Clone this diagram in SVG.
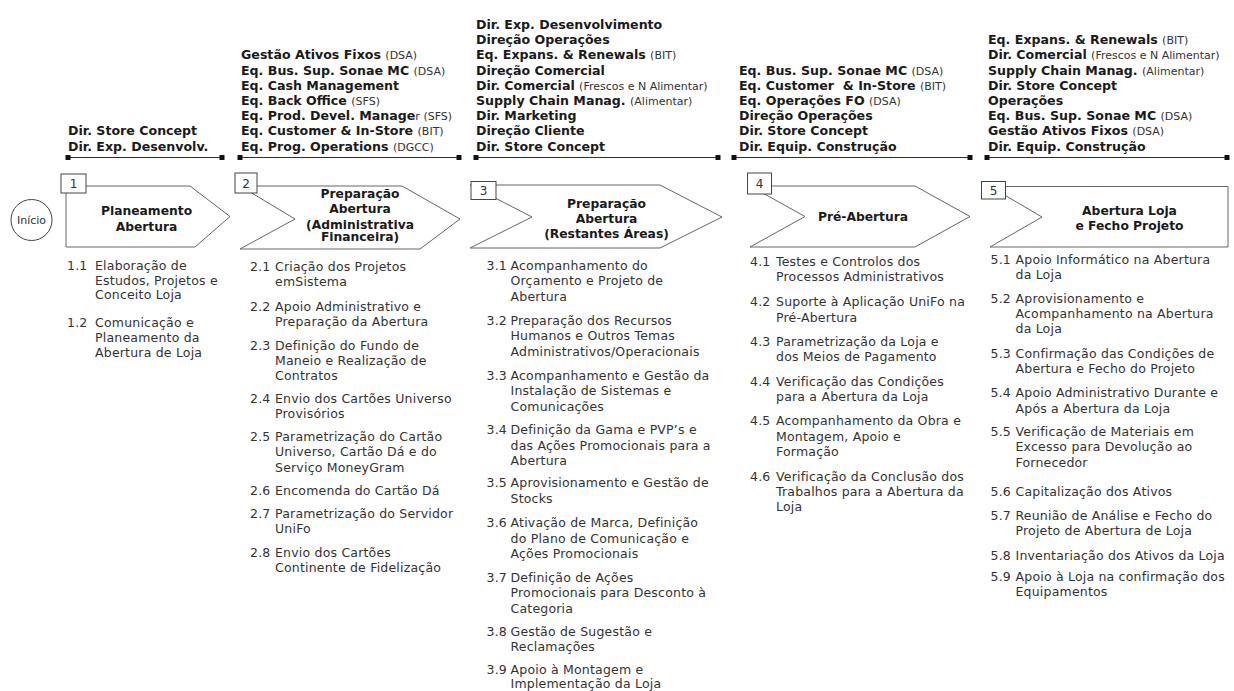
<svg xmlns="http://www.w3.org/2000/svg" width="1234" height="691" viewBox="0 0 1234 691">
<style>
text{font-family:"DejaVu Sans","Verdana",sans-serif;}
.hd{font-size:12.6px;font-weight:bold;fill:#1a1a1a;white-space:pre;}
.hd tspan.p{font-size:11px;font-weight:normal;fill:#333;}
.bd{font-size:12.5px;fill:#333;letter-spacing:0.2px;}
.tt{font-size:12.3px;font-weight:bold;fill:#1a1a1a;text-anchor:middle;}
.num{font-size:12px;fill:#333;text-anchor:middle;}
.chev{fill:#fff;stroke:#666;stroke-width:1;}
.box{fill:#fff;stroke:#444;stroke-width:1;}
.bar{stroke:#333;stroke-width:1.2;}
.sq{fill:#111;}
</style>

<g id="inicio">
<circle cx="31.5" cy="220" r="20.5" fill="#fff" stroke="#444" stroke-width="1"/>
<text x="31.5" y="224" style="font-size:11px;fill:#333;text-anchor:middle;">Início</text>
</g>

<g id="headers">
<g id="header1">
<line class="bar" x1="68" y1="157.5" x2="222" y2="157.5"/>
<rect class="sq" x="65.5" y="155" width="5" height="5"/><rect class="sq" x="219.5" y="155" width="5" height="5"/>
<text class="hd" x="68" y="135.3">Dir. Store Concept</text>
<text class="hd" x="68" y="150.5">Dir. Exp. Desenvolv.</text>
</g>
<g id="header2">
<line class="bar" x1="240" y1="157.5" x2="459" y2="157.5"/>
<rect class="sq" x="237.5" y="155" width="5" height="5"/><rect class="sq" x="456.5" y="155" width="5" height="5"/>
<text class="hd" x="241" y="59.3">Gestão Ativos Fixos <tspan class="p">(DSA)</tspan></text>
<text class="hd" x="241" y="74.5">Eq. Bus. Sup. Sonae MC <tspan class="p">(DSA)</tspan></text>
<text class="hd" x="241" y="89.7">Eq. Cash Management</text>
<text class="hd" x="241" y="104.9">Eq. Back Office <tspan class="p">(SFS)</tspan></text>
<text class="hd" x="241" y="120.1">Eq. Prod. Devel. Manage<tspan class="p">r (SFS)</tspan></text>
<text class="hd" x="241" y="135.3">Eq. Customer &amp; In-Store <tspan class="p">(BIT)</tspan></text>
<text class="hd" x="241" y="150.5">Eq. Prog. Operations <tspan class="p">(DGCC)</tspan></text>
</g>
<g id="header3">
<line class="bar" x1="476" y1="157.5" x2="718" y2="157.5"/>
<rect class="sq" x="473.5" y="155" width="5" height="5"/><rect class="sq" x="715.5" y="155" width="5" height="5"/>
<text class="hd" x="476" y="28.9">Dir. Exp. Desenvolvimento</text>
<text class="hd" x="476" y="44.1">Direção Operações</text>
<text class="hd" x="476" y="59.3">Eq. Expans. &amp; Renewals <tspan class="p">(BIT)</tspan></text>
<text class="hd" x="476" y="74.5">Direção Comercial</text>
<text class="hd" x="476" y="89.7">Dir. Comercial <tspan class="p">(Frescos e N Alimentar)</tspan></text>
<text class="hd" x="476" y="104.9">Supply Chain Manag. <tspan class="p">(Alimentar)</tspan></text>
<text class="hd" x="476" y="120.1">Dir. Marketing</text>
<text class="hd" x="476" y="135.3">Direção Cliente</text>
<text class="hd" x="476" y="150.5">Dir. Store Concept</text>
</g>
<g id="header4">
<line class="bar" x1="734" y1="157.5" x2="970" y2="157.5"/>
<rect class="sq" x="731.5" y="155" width="5" height="5"/><rect class="sq" x="967.5" y="155" width="5" height="5"/>
<text class="hd" x="739" y="74.5">Eq. Bus. Sup. Sonae MC <tspan class="p">(DSA)</tspan></text>
<text class="hd" x="739" y="89.7">Eq. Customer  &amp; In-Store <tspan class="p">(BIT)</tspan></text>
<text class="hd" x="739" y="104.9">Eq. Operações FO <tspan class="p">(DSA)</tspan></text>
<text class="hd" x="739" y="120.1">Direção Operações</text>
<text class="hd" x="739" y="135.3">Dir. Store Concept</text>
<text class="hd" x="739" y="150.5">Dir. Equip. Construção</text>
</g>
<g id="header5">
<line class="bar" x1="987" y1="157.5" x2="1227" y2="157.5"/>
<rect class="sq" x="984.5" y="155" width="5" height="5"/><rect class="sq" x="1224.5" y="155" width="5" height="5"/>
<text class="hd" x="988" y="44.1">Eq. Expans. &amp; Renewals <tspan class="p">(BIT)</tspan></text>
<text class="hd" x="988" y="59.3">Dir. Comercial <tspan class="p">(Frescos e N Alimentar)</tspan></text>
<text class="hd" x="988" y="74.5">Supply Chain Manag. <tspan class="p">(Alimentar)</tspan></text>
<text class="hd" x="988" y="89.7">Dir. Store Concept</text>
<text class="hd" x="988" y="104.9">Operações</text>
<text class="hd" x="988" y="120.1">Eq. Bus. Sup. Sonae MC <tspan class="p">(DSA)</tspan></text>
<text class="hd" x="988" y="135.3">Gestão Ativos Fixos <tspan class="p">(DSA)</tspan></text>
<text class="hd" x="988" y="150.5">Dir. Equip. Construção</text>
</g>
</g>

<g id="step1">
<polygon class="chev" points="66,186 190,186 230,216.5 195,247 66,247"/>
<rect class="box" x="61" y="174" width="25" height="19"/>
<text class="num" x="73.5" y="188">1</text>
<text class="tt" x="146.5" y="214.5">Planeamento</text>
<text class="tt" x="146.5" y="230.5">Abertura</text>
</g>

<g id="step2">
<polygon class="chev" points="240,186 402,186 460,219 420,249 240,249 295,219"/>
<rect class="box" x="235" y="173" width="22" height="20"/>
<text class="num" x="246" y="187.5">2</text>
<text class="tt" x="360" y="197.5">Preparação</text>
<text class="tt" x="360" y="212.5">Abertura</text>
<text class="tt" x="360" y="228.5">(Administrativa</text>
<text class="tt" x="360" y="241">Financeira)</text>
</g>

<g id="step3">
<polygon class="chev" points="470,185 660,185 722,217 660,248 470,248 532,217"/>
<rect class="box" x="471" y="181.5" width="25" height="18"/>
<text class="num" x="483.5" y="195">3</text>
<text class="tt" x="606.5" y="207.5">Preparação</text>
<text class="tt" x="606.5" y="222.5">Abertura</text>
<text class="tt" x="606.5" y="237.5">(Restantes Áreas)</text>
</g>

<g id="step4">
<polygon class="chev" points="750,186 915,186 970,216.5 915,247 750,247 805,216.5"/>
<rect class="box" x="747.5" y="173" width="24" height="21"/>
<text class="num" x="759.5" y="188">4</text>
<text class="tt" x="863" y="221">Pré-Abertura</text>
</g>

<g id="step5">
<polygon class="chev" points="990,186.5 1228,186.5 1228,247 990,247 1042,217"/>
<rect class="box" x="981.5" y="181.5" width="24" height="17.5"/>
<text class="num" x="993.5" y="194.5">5</text>
<text class="tt" x="1129.5" y="214.5">Abertura Loja</text>
<text class="tt" x="1129.5" y="229.5">e Fecho Projeto</text>
</g>

<g id="list1" class="bd">
<text class="bd" x="67" y="269.5">1.1</text><text class="bd" x="95" y="269.5">Elaboração de</text>
<text class="bd" x="95" y="284.5">Estudos, Projetos e</text>
<text class="bd" x="95" y="299">Conceito Loja</text>
<text class="bd" x="67" y="326.5">1.2</text><text class="bd" x="95" y="326.5">Comunicação e</text>
<text class="bd" x="95" y="341.5">Planeamento da</text>
<text class="bd" x="95" y="356.5">Abertura de Loja</text>
</g>

<g id="list2">
<text class="bd" x="250" y="271.2">2.1</text><text class="bd" x="275" y="271.2">Criação dos Projetos</text>
<text class="bd" x="275" y="286.2">emSistema</text>
<text class="bd" x="250" y="310.5">2.2</text><text class="bd" x="275" y="310.5">Apoio Administrativo e</text>
<text class="bd" x="275" y="325.5">Preparação da Abertura</text>
<text class="bd" x="250" y="349.5">2.3</text><text class="bd" x="275" y="349.5">Definição do Fundo de</text>
<text class="bd" x="275" y="364.5">Maneio e Realização de</text>
<text class="bd" x="275" y="379.5">Contratos</text>
<text class="bd" x="250" y="402.8">2.4</text><text class="bd" x="275" y="402.8">Envio dos Cartões Universo</text>
<text class="bd" x="275" y="417.8">Provisórios</text>
<text class="bd" x="250" y="441.2">2.5</text><text class="bd" x="275" y="441.2">Parametrização do Cartão</text>
<text class="bd" x="275" y="456.2">Universo, Cartão Dá e do</text>
<text class="bd" x="275" y="471.8">Serviço MoneyGram</text>
<text class="bd" x="250" y="494.5">2.6</text><text class="bd" x="275" y="494.5">Encomenda do Cartão Dá</text>
<text class="bd" x="250" y="517.8">2.7</text><text class="bd" x="275" y="517.8">Parametrização do Servidor</text>
<text class="bd" x="275" y="532.8">UniFo</text>
<text class="bd" x="250" y="557.2">2.8</text><text class="bd" x="275" y="557.2">Envio dos Cartões</text>
<text class="bd" x="275" y="572.2">Continente de Fidelização</text>
</g>

<g id="list3">
<text class="bd" x="486.5" y="269.5">3.1</text><text class="bd" x="510.5" y="269.5">Acompanhamento do</text>
<text class="bd" x="510.5" y="285">Orçamento e Projeto de</text>
<text class="bd" x="510.5" y="300.5">Abertura</text>
<text class="bd" x="486.5" y="324.5">3.2</text><text class="bd" x="510.5" y="324.5">Preparação dos Recursos</text>
<text class="bd" x="510.5" y="340">Humanos e Outros Temas</text>
<text class="bd" x="510.5" y="355.5">Administrativos/Operacionais</text>
<text class="bd" x="486.5" y="379.5">3.3</text><text class="bd" x="510.5" y="379.5">Acompanhamento e Gestão da</text>
<text class="bd" x="510.5" y="395">Instalação de Sistemas e</text>
<text class="bd" x="510.5" y="410.5">Comunicações</text>
<text class="bd" x="486.5" y="434">3.4</text><text class="bd" x="510.5" y="434">Definição da Gama e PVP’s e</text>
<text class="bd" x="510.5" y="449.5">das Ações Promocionais para a</text>
<text class="bd" x="510.5" y="465">Abertura</text>
<text class="bd" x="486.5" y="487">3.5</text><text class="bd" x="510.5" y="487">Aprovisionamento e Gestão de</text>
<text class="bd" x="510.5" y="502.5">Stocks</text>
<text class="bd" x="486.5" y="527">3.6</text><text class="bd" x="510.5" y="527">Ativação de Marca, Definição</text>
<text class="bd" x="510.5" y="542.5">do Plano de Comunicação e</text>
<text class="bd" x="510.5" y="558">Ações Promocionais</text>
<text class="bd" x="486.5" y="581.5">3.7</text><text class="bd" x="510.5" y="581.5">Definição de Ações</text>
<text class="bd" x="510.5" y="597">Promocionais para Desconto à</text>
<text class="bd" x="510.5" y="612.5">Categoria</text>
<text class="bd" x="486.5" y="635.5">3.8</text><text class="bd" x="510.5" y="635.5">Gestão de Sugestão e</text>
<text class="bd" x="510.5" y="651">Reclamações</text>
<text class="bd" x="486.5" y="674">3.9</text><text class="bd" x="510.5" y="674">Apoio à Montagem e</text>
<text class="bd" x="510.5" y="688">Implementação da Loja</text>
</g>

<g id="list4">
<text class="bd" x="750" y="266.2">4.1</text><text class="bd" x="776" y="266.2">Testes e Controlos dos</text>
<text class="bd" x="776" y="281.2">Processos Administrativos</text>
<text class="bd" x="750" y="306.2">4.2</text><text class="bd" x="776" y="306.2">Suporte à Aplicação UniFo na</text>
<text class="bd" x="776" y="321.8">Pré-Abertura</text>
<text class="bd" x="750" y="346.2">4.3</text><text class="bd" x="776" y="346.2">Parametrização da Loja e</text>
<text class="bd" x="776" y="361.2">dos Meios de Pagamento</text>
<text class="bd" x="750" y="385.5">4.4</text><text class="bd" x="776" y="385.5">Verificação das Condições</text>
<text class="bd" x="776" y="400.5">para a Abertura da Loja</text>
<text class="bd" x="750" y="425.2">4.5</text><text class="bd" x="776" y="425.2">Acompanhamento da Obra e</text>
<text class="bd" x="776" y="440.5">Montagem, Apoio e</text>
<text class="bd" x="776" y="456.2">Formação</text>
<text class="bd" x="750" y="480.5">4.6</text><text class="bd" x="776" y="480.5">Verificação da Conclusão dos</text>
<text class="bd" x="776" y="495.5">Trabalhos para a Abertura da</text>
<text class="bd" x="776" y="511.2">Loja</text>
</g>

<g id="list5">
<text class="bd" x="990.5" y="263.8">5.1</text><text class="bd" x="1015.5" y="263.8">Apoio Informático na Abertura</text>
<text class="bd" x="1015.5" y="278.8">da Loja</text>
<text class="bd" x="990.5" y="302.8">5.2</text><text class="bd" x="1015.5" y="302.8">Aprovisionamento e</text>
<text class="bd" x="1015.5" y="317.8">Acompanhamento na Abertura</text>
<text class="bd" x="1015.5" y="332.8">da Loja</text>
<text class="bd" x="990.5" y="357.8">5.3</text><text class="bd" x="1015.5" y="357.8">Confirmação das Condições de</text>
<text class="bd" x="1015.5" y="372.8">Abertura e Fecho do Projeto</text>
<text class="bd" x="990.5" y="397.2">5.4</text><text class="bd" x="1015.5" y="397.2">Apoio Administrativo Durante e</text>
<text class="bd" x="1015.5" y="412.8">Após a Abertura da Loja</text>
<text class="bd" x="990.5" y="436.2">5.5</text><text class="bd" x="1015.5" y="436.2">Verificação de Materiais em</text>
<text class="bd" x="1015.5" y="451.2">Excesso para Devolução ao</text>
<text class="bd" x="1015.5" y="467.2">Fornecedor</text>
<text class="bd" x="990.5" y="496.2">5.6</text><text class="bd" x="1015.5" y="496.2">Capitalização dos Ativos</text>
<text class="bd" x="990.5" y="519.5">5.7</text><text class="bd" x="1015.5" y="519.5">Reunião de Análise e Fecho do</text>
<text class="bd" x="1015.5" y="535.2">Projeto de Abertura de Loja</text>
<text class="bd" x="990.5" y="559.5">5.8</text><text class="bd" x="1015.5" y="559.5">Inventariação dos Ativos da Loja</text>
<text class="bd" x="990.5" y="581.2">5.9</text><text class="bd" x="1015.5" y="581.2">Apoio à Loja na confirmação dos</text>
<text class="bd" x="1015.5" y="596.2">Equipamentos</text>
</g>
</svg>
